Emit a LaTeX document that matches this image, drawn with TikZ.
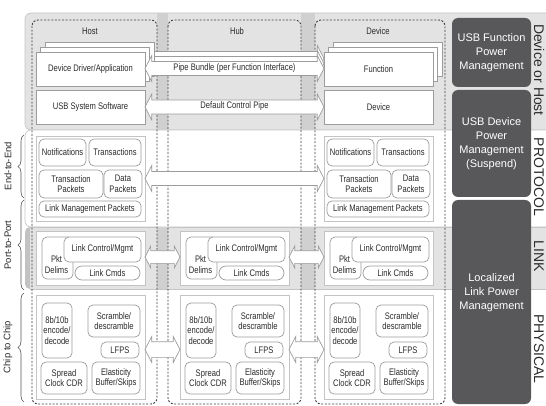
\documentclass[tikz,border=0pt]{standalone}
\usepackage{fontspec}
\setmainfont{Liberation Sans}
\newfontfamily\narrowfont{Liberation Sans}[FakeStretch=0.8]
\usetikzlibrary{shapes.arrows,decorations.pathreplacing,calc}
\definecolor{bandgray}{HTML}{E3E3E3}
\definecolor{gapgray}{HTML}{D0D0D0}
\definecolor{linkedge}{HTML}{C2C2C2}
\definecolor{bandline}{HTML}{C4C4C4}
\definecolor{boxline}{HTML}{9C9C9C}
\definecolor{darkbox}{HTML}{58585A}
\definecolor{txtcol}{HTML}{2B2B2B}
\definecolor{dotcol}{HTML}{3F3F3F}
\newcommand\mybox[7]{\node[#1, anchor=north west, minimum width={(#5)-(#3)}, minimum height={(#6)-(#4)}] (#2) at ({#3},{#4}) {#7};}
\tikzset{
  sbox/.style={draw=boxline, line width=0.7pt, fill=white, inner sep=0pt, outer sep=0pt,
    font=\narrowfont\fontsize{9.5}{10.5}\selectfont, text=txtcol, align=center},
  rbox/.style={sbox, rounded corners=5pt},
  pillbox/.style={sbox, rounded corners=7pt},
  obox/.style={draw=bandline, line width=0.8pt, fill=white, inner sep=0pt, outer sep=0pt},
  txt/.style={font=\narrowfont\fontsize{9.5}{10.5}\selectfont, text=txtcol, align=center, inner sep=0pt},
  coltxt/.style={txt},
  lefttxt/.style={font=\fontsize{9.5}{11}\selectfont, text=txtcol, inner sep=0pt, rotate=90},
  striptxt/.style={font=\fontsize{14}{16}\selectfont, text=txtcol, inner sep=0pt, rotate=-90},
  dbox/.style={fill=darkbox, rounded corners=6pt, inner sep=0pt, outer sep=0pt,
    font=\fontsize{11}{14}\selectfont, text=white, align=center},
  dtxt/.style={font=\fontsize{11}{14}\selectfont, text=white, align=center, inner sep=0pt},
  colframe/.style={draw=dotcol, line width=0.9pt, dash pattern=on 2pt off 1.6pt, rounded corners=6pt},
  bracestyle/.style={draw=txtcol!80, line width=0.6pt, decorate, decoration={brace, amplitude=6pt}},
  barrow/.style={double arrow, draw=boxline, fill=white, line width=0.7pt,
    double arrow tip angle=125, inner xsep=0pt, outer sep=0pt,
    font=\narrowfont\fontsize{9.5}{10.5}\selectfont, text=txtcol},
  longarrow/.style={barrow, text height=5pt, text depth=1.5pt, inner ysep=3.4pt, double arrow head extend=6pt},
  linkarrow/.style={barrow, text height=0pt, text depth=0pt, inner ysep=6pt, double arrow head extend=4.5pt},
  physarrow/.style={barrow, text height=0pt, text depth=0pt, inner ysep=7.5pt, double arrow head extend=5pt}
}
\begin{document}
\begin{tikzpicture}[x=1pt,y=-1pt]
\useasboundingbox (0,0) rectangle (546,406);
\clip (0,0) rectangle (546,406);
\fill[white] (0,0) rectangle (546,406);
% ---- bands
\draw[bandline, fill=bandgray, rounded corners=6pt, line width=0.6pt] (25,13) rectangle (580,130);
\draw[bandline, fill=white, rounded corners=6pt, line width=0.6pt] (25,130) rectangle (580,227);
\fill[linkedge, rounded corners=5pt] (25,227) rectangle (45,289);
\fill[bandgray] (30,227) rectangle (580,289);
\draw[bandline, line width=0.5pt] (30,227) -- (580,227) (30,289) -- (580,289);
% ---- gaps between columns in grey bands
\foreach \ya/\yb in {13.5/129.7, 227.3/288.7} {
  \fill[gapgray] (157,\ya) rectangle (168,\yb);
  \fill[gapgray] (301,\ya) rectangle (315,\yb);
}
% ---- columns
\draw[colframe] (32,20) rectangle (157,404);
\draw[colframe] (168,20) rectangle (301,404);
\draw[colframe] (315,20) rectangle (445,404);
\node[coltxt] (hosthd) at (90,31) {Host};
\node[coltxt] (hubhd) at (237,31) {Hub};
\node[coltxt] (devhd) at (378,31) {Device};
% ---- left braces
\draw[bracestyle] (24,198) -- (24,135);
\draw[bracestyle] (24,290) -- (24,200);
\draw[bracestyle] (24,402) -- (24,293);
\node[lefttxt] (e2e) at (8,166) {End-to-End};
\node[lefttxt] (p2p) at (8,245) {Port-to-Port};
\node[lefttxt] (c2c) at (8,347) {Chip to Chip};
% ---- right power management boxes
\mybox{dbox}{ufpm}{452}{18}{531}{87}{USB Function\\Power\\Management}
\mybox{dbox}{udpm}{452}{90}{531}{197}{USB Device\\Power\\Management\\(Suspend)}
\mybox{dbox}{llpm}{452}{200}{531}{404}{}
\node[dtxt] (llpmt) at (491.5,293) {Localized\\Link Power\\Management};
% ---- right strip labels
\node[striptxt] (sdh) at (539,70) {Device or Host};
\node[striptxt] (spr) at (539,177) {PROTOCOL};
\node[striptxt] (slk) at (539,256) {LINK};
\node[striptxt] (sph) at (539,349) {PHYSICAL};
% ---- pipe bundle back copies
\node[longarrow, minimum height=179pt] (pipeb2) at (234.5,58.5) {\phantom{x}};
\node[longarrow, minimum height=179pt] (pipeb1) at (234.5,63.5) {\phantom{x}};
% ---- top section boxes (stacked)
\mybox{sbox}{ddh2}{45}{42}{154}{76}{}
\mybox{sbox}{ddh1}{40.5}{47}{149.5}{81}{}
\mybox{sbox}{ddh}{36}{52}{145}{86}{Device Driver/Application}
\mybox{sbox}{ussh}{36}{90}{145}{124}{USB System Software}
\mybox{sbox}{fnd2}{333}{42}{442}{76}{}
\mybox{sbox}{fnd1}{328.5}{47}{437.5}{81}{}
\mybox{sbox}{fnd}{324}{52}{433}{86}{Function}
\mybox{sbox}{devd}{324}{90}{433}{124}{Device}
% ---- protocol boxes
\foreach \c/\x in {h/36,d/324} {
  \mybox{obox}{pr\c}{\x}{136}{\x+109}{221}{}
  \mybox{rbox}{notif\c}{\x+3}{139}{\x+50}{166}{Notifications}
  \mybox{rbox}{trans\c}{\x+53}{139}{\x+105}{166}{Transactions}
  \mybox{rbox}{tpk\c}{\x+3}{170}{\x+67}{198}{Transaction\\Packets}
  \mybox{rbox}{dpk\c}{\x+68}{170}{\x+106}{198}{Data\\Packets}
  \mybox{rbox}{lmp\c}{\x+3}{201}{\x+105}{217}{Link Management Packets}
}
% ---- link and physical boxes
\foreach \c/\x in {h/36,u/180,d/324} {
  \mybox{obox}{lk\c}{\x}{231}{\x+109}{285}{}
  \mybox{rbox}{pkt\c}{\x+6}{237}{\x+37}{279}{}
  \mybox{rbox}{lcm\c}{\x+28}{237}{\x+105}{262}{Link Control/Mgmt}
  \node[txt] (pktt\c) at ({\x+20.5},264.5) {Pkt\\Delims};
  \mybox{pillbox}{lcmd\c}{\x+39}{266}{\x+104}{280}{Link Cmds}
  \mybox{obox}{ph\c}{\x}{295}{\x+109}{399}{}
  \mybox{rbox}{enc\c}{\x+6}{303}{\x+36}{358}{8b/10b\\encode/\\decode}
  \mybox{rbox}{scr\c}{\x+52}{305}{\x+104}{337}{Scramble/\\descramble}
  \mybox{rbox}{lfps\c}{\x+65}{342}{\x+103}{358}{LFPS}
  \mybox{rbox}{spr\c}{\x+5}{362}{\x+51}{394}{Spread\\Clock CDR}
  \mybox{rbox}{ela\c}{\x+56}{362}{\x+104}{394}{Elasticity\\Buffer/Skips}
}
% ---- block arrows
\node[longarrow, minimum height=179pt] (pipe) at ($(ddh.east)!0.5!(fnd.west)+(0,-0.5)$) {Pipe Bundle (per Function Interface)};
\node[longarrow, minimum height=179pt] (dcp) at ($(ussh.east)!0.5!(devd.west)$) {Default Control Pipe};
\node[longarrow, minimum height=179pt] (proto) at ($(prh.east)!0.5!(prd.west)$) {\phantom{x}};
\node[linkarrow, minimum height=35pt] (lka) at ($(lkh.east)!0.5!(lku.west)+(0,-1)$) {};
\node[linkarrow, minimum height=35pt] (lkb) at ($(lku.east)!0.5!(lkd.west)+(0,-1)$) {};
\node[physarrow, minimum height=35pt] (pha) at ($(phh.east)!0.5!(phu.west)+(0,2.5)$) {};
\node[physarrow, minimum height=35pt] (phb) at ($(phu.east)!0.5!(phd.west)+(0,2.5)$) {};
\end{tikzpicture}
\end{document}
